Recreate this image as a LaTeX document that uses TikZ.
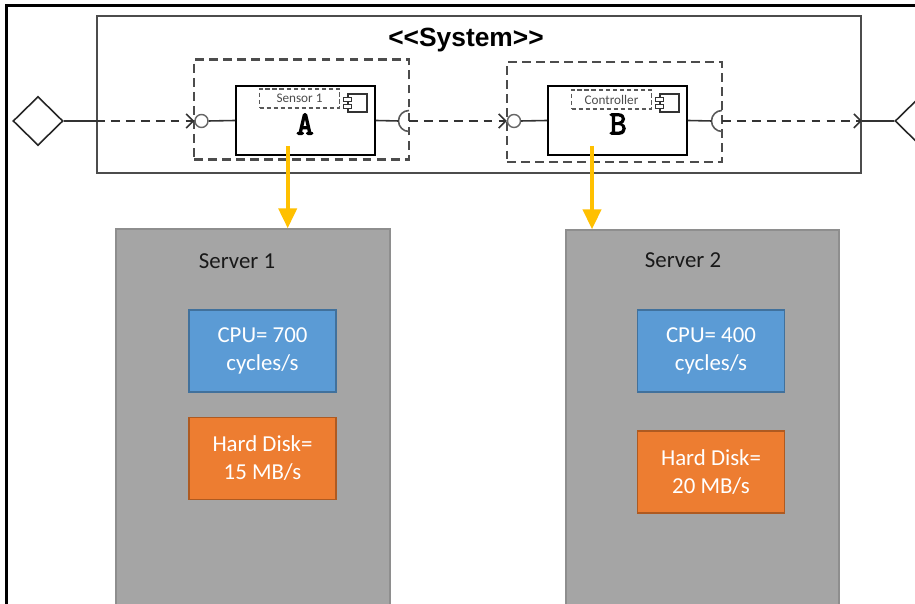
\documentclass[tikz,border=0pt]{standalone}
\usepackage{fontspec}
\setmainfont{Carlito}
\newfontfamily\sysfont{Liberation Sans}
\newfontfamily\compfont{Latin Modern Mono}[AutoFakeBold=3.5]
\usepackage{xcolor}
\usepackage{tikz}
\usetikzlibrary{shapes.geometric}
\usetikzlibrary{arrows.meta, positioning, calc}

\definecolor{srvgray}{HTML}{A5A5A5}
\definecolor{srvedge}{HTML}{8E8E8E}
\definecolor{cpublue}{HTML}{5B9BD5}
\definecolor{cpuedge}{HTML}{41719C}
\definecolor{hdorange}{HTML}{ED7D31}
\definecolor{hdedge}{HTML}{AE5A21}
\definecolor{deployyellow}{HTML}{FFC000}

\begin{document}
\begin{tikzpicture}[
    x=0.02cm, y=0.02cm,
    server/.style={draw=srvedge, fill=srvgray, line width=0.8pt, minimum width=5.48cm, minimum height=7.82cm},
    res/.style={minimum width=2.94cm, minimum height=1.64cm, text=white, align=center, font=\fontsize{13}{16}\selectfont, line width=0.6pt},
    comp/.style={draw=black, line width=1.1pt, minimum width=2.78cm, minimum height=1.38cm},
    part/.style={draw=black!70, line width=1.2pt, dash pattern=on 5pt off 3pt, minimum width=4.3cm, minimum height=2cm},
    tag/.style={draw=black!65, line width=0.6pt, dash pattern=on 2.5pt off 1.5pt, minimum width=1.6cm, minimum height=0.38cm, inner sep=0pt, font=\fontsize{7.5}{8}\selectfont, text=black!70},
    icon/.style={draw=black!80, line width=0.7pt, minimum width=0.38cm, minimum height=0.36cm, inner sep=0pt},
    icontab/.style={draw=black!80, fill=white, line width=0.5pt, minimum width=0.16cm, minimum height=0.08cm, inner sep=0pt},
    compname/.style={font=\compfont\bfseries\fontsize{19}{19}\selectfont},
    port/.style={circle, draw=black!60, fill=white, line width=0.8pt, minimum size=0.26cm, inner sep=0pt},
    gate/.style={diamond, draw=black!85, line width=0.9pt, minimum width=1cm, minimum height=0.98cm, inner sep=0pt},
    link/.style={draw=black!80, line width=0.9pt},
    flow/.style={link, dash pattern=on 5pt off 3.5pt, -{Straight Barb[length=4pt,width=8pt]}},
    deploy/.style={draw=deployyellow, line width=2.3pt, -{Triangle[width=0.36cm,length=0.4cm]}}
]
\clip (0,0) rectangle (915,604);
\fill[white] (0,0) rectangle (915,604);
\draw[line width=1.2pt] (6.5,-10) -- (6.5,598.5) -- (930,598.5);

% system
\node[draw=black!70, line width=1.2pt, minimum width=15.28cm, minimum height=3.14cm] (sys) at (479,509.5) {};
\node[font=\sysfont\bfseries\fontsize{15}{18}\selectfont] (systitle) at (466,564) {<{}<System>{}>};

\node[part] (partA) at (301.5,494.5) {};
\node[part] (partB) at (614.5,492) {};

\node[comp] (compA) at (305.5,483.5) {};
\node[tag] (tagA) at (299.5,505.5) {Sensor 1};
\node[icon] (iconA) at (357.5,501) {};
\node[icontab] (tabA1) at ($(iconA.west)+(0,3.5)$) {};
\node[icontab] (tabA2) at ($(iconA.west)+(0,-3.5)$) {};
\node[compname] (nameA) at (305,480) {A};

\node[comp] (compB) at (617.5,483.5) {};
\node[tag] (tagB) at (611.5,504.5) {Controller};
\node[icon] (iconB) at (669.5,501) {};
\node[icontab] (tabB1) at ($(iconB.west)+(0,3.5)$) {};
\node[icontab] (tabB2) at ($(iconB.west)+(0,-3.5)$) {};
\node[compname] (nameB) at (618,480) {B};

% ports and sockets
\node[gate] (gateIn) at (38,483) {};
\node[gate] (gateOut) at (920,483) {};
\coordinate (sysIn) at (sys.west |- gateIn);
\coordinate (sysOut) at (sys.east |- gateOut);
\coordinate (sockA) at (409,483);
\coordinate (sockB) at (722,483);
\draw[link, draw=black!65] (sockA) ++(0,10.5) arc[start angle=90, end angle=270, radius=10.5];
\draw[link, draw=black!65] (sockB) ++(0,10.5) arc[start angle=90, end angle=270, radius=10.5];
\node[port] (portA) at (201.5,483) {};
\node[port] (portB) at (514,483) {};

\draw[link] (gateIn.east) -- (sysIn);
\draw[flow] (sysIn) -- (portA.west);
\draw[link] (portA.east) -- (compA.west);
\draw[link] (compA.east) -- ($(sockA)+(-10.5,0)$);
\draw[flow] (sockA) -- (portB.west);
\draw[link] (portB.east) -- (compB.west);
\draw[link] (compB.east) -- ($(sockB)+(-10.5,0)$);
\draw[flow] (sockB) -- (sysOut);
\draw[link] (sysOut) -- (gateOut.west);

% servers
\node[server] (srv1) at (253,179.5) {};
\node[server, minimum width=5.46cm] (srv2) at (702.5,178.5) {};
\node[font=\fontsize{13}{16}\selectfont, text=black!90] (srv1title) at (237,343) {Server 1};
\node[font=\fontsize{13}{16}\selectfont, text=black!90] (srv2title) at (683,344) {Server 2};

\node[res, fill=cpublue, draw=cpuedge] (cpu1) at (262.5,253) {CPU= 700\\cycles/s};
\node[res, fill=hdorange, draw=hdedge] (hd1) at (262.5,145.5) {Hard Disk=\\15 MB/s};
\node[res, fill=cpublue, draw=cpuedge] (cpu2) at (711,253) {CPU= 400\\cycles/s};
\node[res, fill=hdorange, draw=hdedge] (hd2) at (711,132) {Hard Disk=\\20 MB/s};

% deployment
\coordinate (depA) at (287.7,458);
\coordinate (depB) at (592,458);
\draw[deploy] (depA) -- (depA |- srv1.north);
\draw[deploy] (depB) -- (depB |- srv2.north);
\end{tikzpicture}
\end{document}
